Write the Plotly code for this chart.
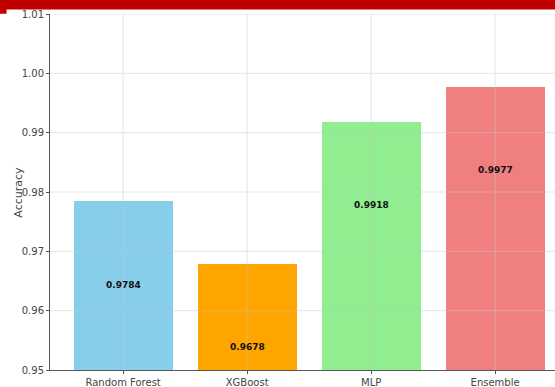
import plotly.graph_objects as go

models = ["Random Forest", "XGBoost", "MLP", "Ensemble"]
accuracy = [0.9784, 0.9678, 0.9918, 0.9977]
bar_colors = ["#87CEEB", "#FFA500", "#90EE90", "#F08080"]
y_ticks = [0.95, 0.96, 0.97, 0.98, 0.99, 1.00, 1.01]
label_offset = 0.014

xs = list(range(len(models)))
FONT = "DejaVu Sans"

fig = go.Figure()
fig.add_trace(go.Bar(
    x=xs, y=accuracy, width=0.8, marker=dict(color=bar_colors, line=dict(width=0)),
    hoverinfo="skip", showlegend=False,
))

# value labels inside each bar
for x, v in zip(xs, accuracy):
    fig.add_annotation(x=x, y=v - label_offset, text=f"<b>{v:.4f}</b>", showarrow=False,
                       font=dict(family=FONT, size=9, color="#111111"))

# gridlines drawn over the bars
for t in y_ticks[1:]:
    fig.add_shape(type="line", xref="paper", x0=0, x1=1, yref="y", y0=t, y1=t,
                  line=dict(color="rgba(200,200,200,0.45)", width=1), layer="above")
for x in xs:
    fig.add_shape(type="line", xref="x", x0=x, x1=x, yref="paper", y0=0, y1=1,
                  line=dict(color="rgba(200,200,200,0.45)", width=1), layer="above")

# red header band
fig.add_shape(type="rect", xref="paper", yref="paper", x0=-0.2, x1=1.05, y0=1.0125, y1=1.2,
              fillcolor="#C00000", line=dict(width=0), layer="above")
fig.add_shape(type="rect", xref="paper", yref="paper", x0=-0.2, x1=-0.086, y0=1.001, y1=1.2,
              fillcolor="#C00000", line=dict(width=0), layer="above")

# y-axis title
fig.add_annotation(xref="paper", yref="paper", x=-0.064, y=0.5, text="Accuracy",
                   textangle=-90, showarrow=False, xanchor="center", yanchor="middle",
                   font=dict(family=FONT, size=11, color="#444444"))

fig.update_layout(
    width=555, height=387,
    margin=dict(l=50, r=0, t=14, b=17),
    paper_bgcolor="white", plot_bgcolor="white",
    bargap=0,
    font=dict(family=FONT, size=10, color="#444444"),
    xaxis=dict(range=[-0.59, 3.483], tickmode="array", tickvals=xs, ticktext=models,
               showgrid=False, zeroline=False, showline=True, linecolor="#555555",
               linewidth=1, ticks="outside", ticklen=3, tickcolor="#555555",
               tickfont=dict(size=10, color="#444444")),
    yaxis=dict(range=[0.95, 1.01], tickmode="array", tickvals=y_ticks,
               ticktext=[f"{t:.2f}" for t in y_ticks],
               showgrid=False, zeroline=False, showline=True, linecolor="#555555",
               linewidth=1, ticks="outside", ticklen=3, tickcolor="#555555",
               tickfont=dict(size=10, color="#444444")),
)

fig.write_html("out.html")
